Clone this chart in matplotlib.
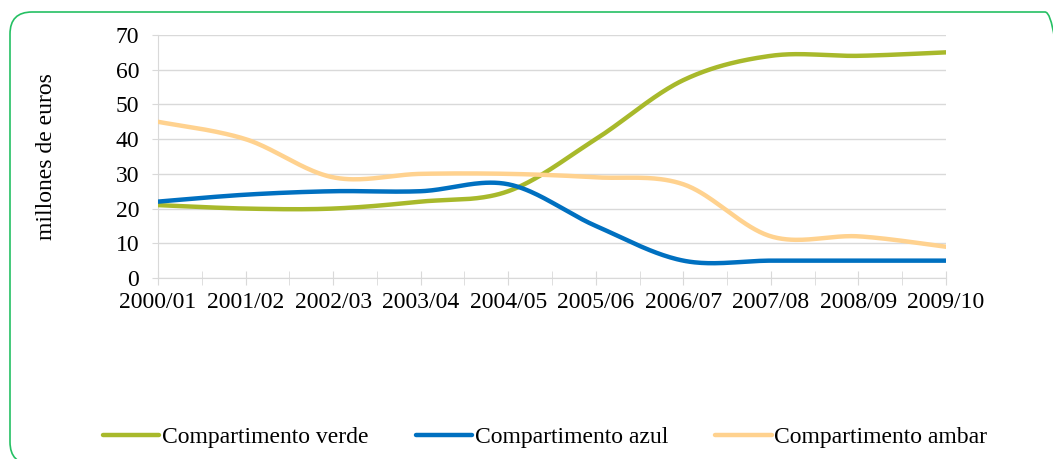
import numpy as np
import matplotlib
matplotlib.use("Agg")
import matplotlib.pyplot as plt
from matplotlib.patches import FancyBboxPatch

plt.rcParams['font.family'] = ['Liberation Serif', 'DejaVu Serif']

years = ["2000/01", "2001/02", "2002/03", "2003/04", "2004/05",
         "2005/06", "2006/07", "2007/08", "2008/09", "2009/10"]
verde = [21, 20, 20, 22, 25, 40, 57, 64, 64, 65]
azul = [22, 24, 25, 25, 27, 15, 5, 5, 5, 5]
ambar = [45, 40, 29, 30, 30, 29, 27, 12, 12, 9]


def smooth(y, n=40):
    # bezier smoothing like the spreadsheet "smoothed line"
    y = np.asarray(y, dtype=float)
    x = np.arange(len(y), dtype=float)
    pts = np.column_stack([x, y])
    out = []
    for i in range(len(pts) - 1):
        p0 = pts[max(i - 1, 0)]
        p1 = pts[i]
        p2 = pts[i + 1]
        p3 = pts[min(i + 2, len(pts) - 1)]
        c1 = p1 + (p2 - p0) / 6
        c2 = p2 - (p3 - p1) / 6
        t = np.linspace(0, 1, n)[:, None]
        seg = ((1 - t) ** 3) * p1 + 3 * ((1 - t) ** 2) * t * c1 + 3 * (1 - t) * t ** 2 * c2 + t ** 3 * p2
        out.append(seg if i == 0 else seg[1:])
    seg = np.vstack(out)
    return seg[:, 0], seg[:, 1]


fig = plt.figure(figsize=(10.53, 4.59), dpi=100)

# rounded border drawn in pixel coordinates (y up)
bg = fig.add_axes([0, 0, 1, 1])
bg.set_xlim(0, 1053)
bg.set_ylim(0, 459)
bg.axis("off")
bg.add_patch(FancyBboxPatch((10, -5), 1057, 452,
                            boxstyle="round,pad=0,rounding_size=22",
                            fill=False, edgecolor="#25C063", lw=1.2, clip_on=False))

ax = fig.add_axes([158 / 1053, 1 - 278 / 459, (946 - 158) / 1053, (278 - 35) / 459])

series = [("Compartimento verde", verde, "#A8B92B"),
          ("Compartimento azul", azul, "#0070C0"),
          ("Compartimento ambar", ambar, "#FFD28F")]
for name, vals, col in series:
    sx, sy = smooth(vals)
    ax.plot(sx, sy, color=col, lw=3.2, label=name, solid_capstyle="round", zorder=3)

ax.set_xlim(0, len(years) - 1)
ax.set_ylim(0, 70)
ax.set_yticks(range(0, 71, 10))
ax.set_xticks(range(len(years)))
ax.set_xticklabels(years)
ax.set_xticks(np.arange(0.5, len(years) - 1, 1), minor=True)
ax.grid(axis="y", color="#d9d9d9", lw=1)
ax.set_axisbelow(True)
for s in ["top", "right"]:
    ax.spines[s].set_visible(False)
for s in ["left", "bottom"]:
    ax.spines[s].set_color("#d9d9d9")
ax.tick_params(axis="y", length=4.5, color="#d9d9d9", labelsize=17, pad=9)
ax.tick_params(axis="x", which="both", direction="inout", length=10, color="#d9d9d9",
               labelsize=17, pad=5)
ax.tick_params(axis="x", which="minor", labelbottom=False)
ax.set_ylabel("millones de euros", fontsize=17, labelpad=42)

fig.legend(loc="center", bbox_to_anchor=(545 / 1053, 1 - 437 / 459), ncol=3,
           frameon=False, fontsize=17, handlelength=2.4, handletextpad=0.1,
           columnspacing=2.0)

fig.savefig("out.png", dpi=100)
